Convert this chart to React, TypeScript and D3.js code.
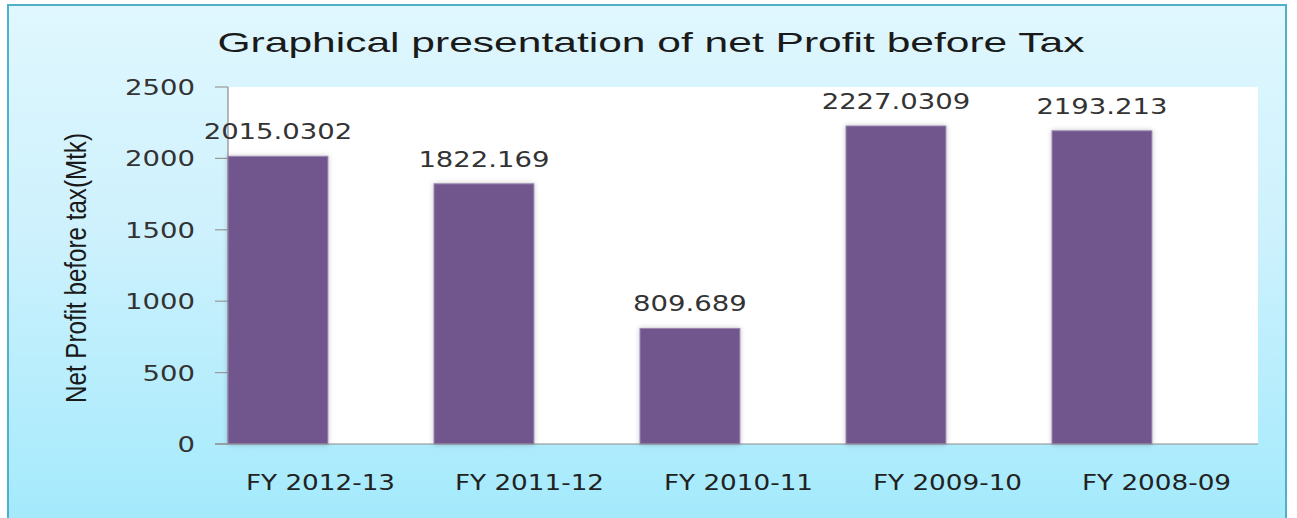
import * as d3 from 'd3'

const categories = ['FY 2012-13', 'FY 2011-12', 'FY 2010-11', 'FY 2009-10', 'FY 2008-09']
const profits = [2015.0302, 1822.169, 809.689, 2227.0309, 2193.213]
const profitLabels = ['2015.0302', '1822.169', '809.689', '2227.0309', '2193.213']
const yDomain = [0, 2500]

const W = 1297
const H = 518
const plot = { left: 228, right: 1258, top: 87, bottom: 444 }
const stretch = 1.25
const numFont = "'DejaVu Sans', Verdana, sans-serif"
const arial = "'Liberation Sans', Arial, sans-serif"

export default function App() {
  const x = d3.scaleBand<string>().domain(categories).range([plot.left, plot.right]).padding(0)
  const xLabel = d3.scaleBand<string>().domain(categories).range([216, 1261]).padding(0)
  const y = d3.scaleLinear().domain(yDomain).range([plot.bottom, plot.top])
  const barW = x.bandwidth() * 0.485

  return (
    <div style={{ position: 'absolute', left: 0, top: 0 }}>
      <svg width={W} height={H} style={{ display: 'block' }}>
        <defs>
          <linearGradient id="bg" x1="0" y1="0" x2="0" y2="1">
            <stop offset="0" stopColor="#e0f7fe" />
            <stop offset="0.45" stopColor="#cdf1fd" />
            <stop offset="1" stopColor="#a3eafc" />
          </linearGradient>
          <filter id="sh" x="-10%" y="-5%" width="120%" height="110%">
            <feDropShadow dx="0" dy="0" stdDeviation="2.5" floodColor="#000" floodOpacity="0.22" />
          </filter>
        </defs>
        <rect x={0} y={0} width={W} height={H} fill="#fff" />
        <rect x={8} y={5} width={1278} height={H} fill="url(#bg)" stroke="#4fb0c9" strokeWidth={2} />

        <text
          x={651} y={52} textAnchor="middle" fontFamily={arial} fontSize={28} fill="#1a1a1a"
          textLength={867} lengthAdjust="spacingAndGlyphs"
        >Graphical presentation of net Profit before Tax</text>

        <rect x={plot.left} y={plot.top} width={plot.right - plot.left} height={plot.bottom - plot.top} fill="#fff" />

        {/* y axis */}
        <line x1={plot.left} x2={plot.left} y1={plot.top} y2={plot.bottom} stroke="#8a8a8a" strokeWidth={1.2} />
        {y.ticks(5).map(t => (
          <g key={t}>
            <line x1={215} x2={plot.left} y1={y(t)} y2={y(t)} stroke="#999" strokeWidth={1.2} />
            <text
              transform={`translate(195,${y(t) + 8}) scale(${stretch},1)`}
              textAnchor="end" fontFamily={numFont} fontSize={22} fill="#333"
            >{t}</text>
          </g>
        ))}
        <text
          transform="translate(86,268) rotate(-90)" textAnchor="middle" fontFamily={arial} fontSize={29}
          fill="#1a1a1a" textLength={270} lengthAdjust="spacingAndGlyphs"
        >Net Profit before tax(Mtk)</text>

        {/* bars */}
        {categories.map((c, i) => (
          <g key={c}>
            <rect
              x={x(c)} y={y(profits[i])} width={barW} height={y(0) - y(profits[i])}
              fill="#70578d" stroke="#9a88b0" strokeWidth={1} filter="url(#sh)"
            />
            <text
              transform={`translate(${(x(c) ?? 0) + barW / 2},${y(profits[i]) - 17}) scale(${stretch},1)`}
              textAnchor="middle" fontFamily={numFont} fontSize={22} fill="#333"
            >{profitLabels[i]}</text>
            <text
              transform={`translate(${(xLabel(c) ?? 0) + xLabel.bandwidth() / 2},490) scale(${stretch},1)`}
              textAnchor="middle" fontFamily={numFont} fontSize={21} fill="#222"
            >{c}</text>
          </g>
        ))}

        <line x1={215} x2={plot.right} y1={plot.bottom} y2={plot.bottom} stroke="#8a8a8a" strokeWidth={1.2} />
      </svg>
    </div>
  )
}
